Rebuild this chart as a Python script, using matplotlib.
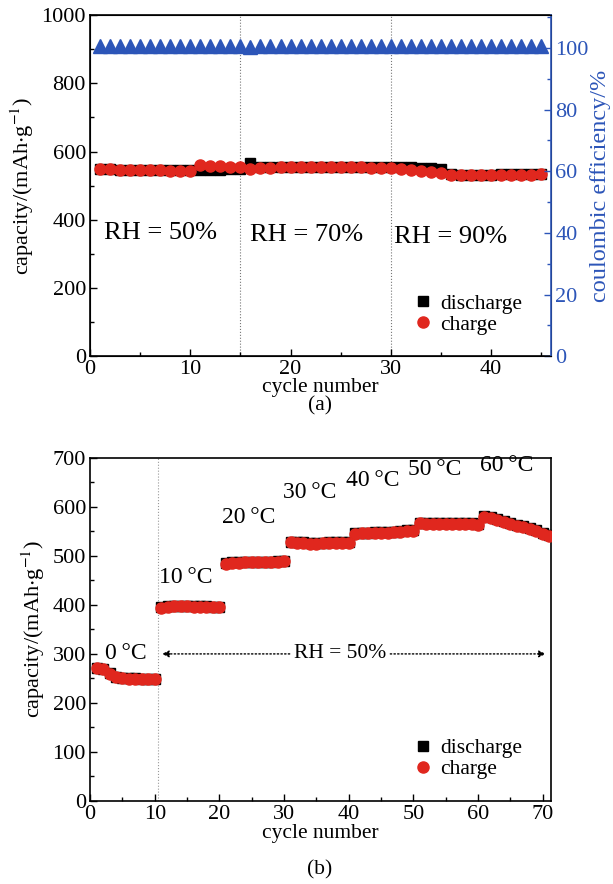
import matplotlib
matplotlib.use('Agg')
import matplotlib.pyplot as plt
from matplotlib.ticker import MultipleLocator

plt.rcParams['font.family'] = ['Liberation Serif', 'DejaVu Serif']
plt.rcParams['mathtext.fontset'] = 'stix'
plt.rcParams['xtick.direction'] = 'in'
plt.rcParams['ytick.direction'] = 'in'

RED = '#e0271e'
BLUE = '#2c55b8'

# (a) capacity vs cycle at different RH
cycles_a = list(range(1, 46))
discharge_a = [548, 548, 547, 547, 546, 546, 545, 545, 545, 545,
               546, 547, 547, 548, 548,
               565, 554, 554, 555, 555, 556, 556, 556, 556, 556, 555, 555, 555, 555, 554,
               556, 555, 553, 551, 549,
               533, 531, 531, 532, 532, 533, 533, 533, 533, 533]
charge_a = [548, 548, 547, 546, 546, 545, 545, 544, 544, 544,
            560, 557, 557, 556, 556,
            550, 552, 553, 554, 554, 555, 555, 555, 555, 554, 554, 554, 553, 553, 552,
            550, 546, 543, 541, 538,
            530, 530, 531, 531, 531, 532, 532, 532, 532, 533]
ce_a = [100.6, 100.6, 100.5, 100.6, 100.6, 100.5, 100.6, 100.6, 100.5, 100.6,
        100.8, 100.6, 100.6, 100.6, 100.6,
        100.2, 100.6, 100.6, 100.6, 100.5, 100.6, 100.6, 100.6, 100.5, 100.6,
        100.6, 100.6, 100.5, 100.6, 100.6,
        100.5, 100.6, 100.6, 100.6, 100.6, 100.5, 100.6, 100.6, 100.6, 100.6,
        100.6, 100.5, 100.6, 100.6, 100.6]
rh_labels = ['RH = 50%', 'RH = 70%', 'RH = 90%']
rh_pos = [(7.0, 360), (21.6, 355), (36.0, 349)]
rh_bounds = [15, 30]

# (b) capacity vs cycle at different temperature
cycles_b = list(range(1, 72))
discharge_b = [272, 270, 262, 253, 251, 250, 250, 249, 249, 249,
               396, 397, 398, 398, 398, 397, 397, 397, 396, 396,
               486, 487, 487, 488, 488, 488, 488, 488, 489, 490,
               529, 528, 528, 527, 527, 527, 528, 528, 528, 529,
               546, 547, 547, 548, 548, 548, 549, 550, 552, 553,
               568, 568, 568, 567, 567, 567, 567, 567, 567, 566,
               581, 579, 576, 572, 568, 564, 561, 557, 552, 547, 542]
charge_b = [271, 269, 260, 252, 250, 249, 249, 248, 248, 249,
            394, 396, 397, 397, 397, 396, 396, 396, 395, 395,
            484, 486, 486, 487, 487, 487, 487, 487, 488, 489,
            528, 527, 526, 525, 525, 526, 527, 527, 527, 527,
            545, 546, 546, 547, 546, 547, 548, 549, 550, 551,
            567, 566, 566, 566, 566, 566, 566, 566, 565, 563,
            580, 577, 574, 570, 566, 562, 559, 555, 550, 545, 540]
temp_labels = ['0\u2009°C', '10\u2009°C', '20\u2009°C', '30\u2009°C', '40\u2009°C', '50\u2009°C', '60\u2009°C']
temp_pos = [(5.5, 300), (14.8, 456), (24.5, 578), (34.0, 630), (43.7, 653), (53.3, 677), (64.4, 684)]

fig = plt.figure(figsize=(6.13, 8.84), dpi=100)

# ---------- (a) ----------
ax1 = fig.add_axes([0.147, 0.597, 0.752, 0.386])
ax1.plot(cycles_a, discharge_a, color='black', lw=0, marker='s', ms=7, label='discharge', zorder=3)
ax1.plot(cycles_a, charge_a, color=RED, lw=0, marker='o', ms=8, label='charge', zorder=4)
for b in rh_bounds:
    ax1.axvline(b, color='#777777', lw=0.8, ls=':', zorder=1)
for t, (x, y) in zip(rh_labels, rh_pos):
    ax1.text(x, y, t, fontsize=19, ha='center', va='center')
ax1.set_xlim(0, 46)
ax1.set_ylim(0, 1000)
ax1.xaxis.set_major_locator(MultipleLocator(10))
ax1.xaxis.set_minor_locator(MultipleLocator(5))
ax1.yaxis.set_major_locator(MultipleLocator(200))
ax1.yaxis.set_minor_locator(MultipleLocator(100))
ax1.tick_params(labelsize=16, length=5, width=1, pad=3)
ax1.tick_params(which='minor', length=3, width=1)
ax1.set_xlabel('cycle number', fontsize=15.5, labelpad=-1)
ax1.set_ylabel(r'capacity/(mAh$\cdot$g$^{-1}$)', fontsize=16, labelpad=4)
ax1.legend(loc='lower right', bbox_to_anchor=(0.966, 0.025), frameon=False, fontsize=15.5,
           handletextpad=0.2, labelspacing=0.05, handlelength=1.2, borderaxespad=0.2)

ax2 = ax1.twinx()
ax2.plot(cycles_a, ce_a, color=BLUE, lw=0, marker='^', ms=10, zorder=3)
ax2.set_ylim(0, 110.7)
ax2.yaxis.set_major_locator(MultipleLocator(20))
ax2.yaxis.set_minor_locator(MultipleLocator(10))
ax2.tick_params(axis='y', colors=BLUE, labelsize=16, length=5, width=1, pad=3)
ax2.tick_params(axis='y', which='minor', colors=BLUE, length=3, width=1)
ax2.spines['right'].set_color(BLUE)
ax2.spines['right'].set_linewidth(1.2)
ax2.set_ylabel('coulombic efficiency/%', color=BLUE, fontsize=17.5, labelpad=1)
for s in ['left', 'bottom', 'top']:
    ax1.spines[s].set_linewidth(1.2)
fig.text(0.522, 0.541, '(a)', fontsize=15.5, ha='center', va='center')

# ---------- (b) ----------
ax3 = fig.add_axes([0.147, 0.094, 0.752, 0.388])
ax3.plot(cycles_b, discharge_b, color='black', lw=0, marker='s', ms=7, label='discharge', zorder=3)
ax3.plot(cycles_b, charge_b, color=RED, lw=0, marker='o', ms=8, label='charge', zorder=4)
ax3.axvline(10.5, color='#999999', lw=0.8, ls=':', zorder=1)
for t, (x, y) in zip(temp_labels, temp_pos):
    ax3.text(x, y, t, fontsize=17, ha='center', va='center')
ax3.text(38.6, 300, 'RH = 50%', fontsize=15.5, ha='center', va='center')
ax3.annotate('', xy=(10.7, 300), xytext=(31.3, 300),
             arrowprops=dict(arrowstyle='-|>', ls=':', lw=1, color='black', mutation_scale=10))
ax3.annotate('', xy=(70.9, 300), xytext=(46.0, 300),
             arrowprops=dict(arrowstyle='-|>', ls=':', lw=1, color='black', mutation_scale=10))
ax3.set_xlim(0, 71.3)
ax3.set_ylim(0, 700)
ax3.xaxis.set_major_locator(MultipleLocator(10))
ax3.xaxis.set_minor_locator(MultipleLocator(5))
ax3.yaxis.set_major_locator(MultipleLocator(100))
ax3.yaxis.set_minor_locator(MultipleLocator(50))
ax3.tick_params(labelsize=16, length=5, width=1, pad=3)
ax3.tick_params(which='minor', length=3, width=1)
ax3.set_xlabel('cycle number', fontsize=15.5, labelpad=0)
ax3.set_ylabel(r'capacity/(mAh$\cdot$g$^{-1}$)', fontsize=16, labelpad=4)
ax3.legend(loc='lower right', bbox_to_anchor=(0.966, 0.025), frameon=False, fontsize=15.5,
           handletextpad=0.2, labelspacing=0.05, handlelength=1.2, borderaxespad=0.2)
for s in ax3.spines.values():
    s.set_linewidth(1.2)
fig.text(0.522, 0.016, '(b)', fontsize=15.5, ha='center', va='center')

fig.savefig('out.png', dpi=100)
